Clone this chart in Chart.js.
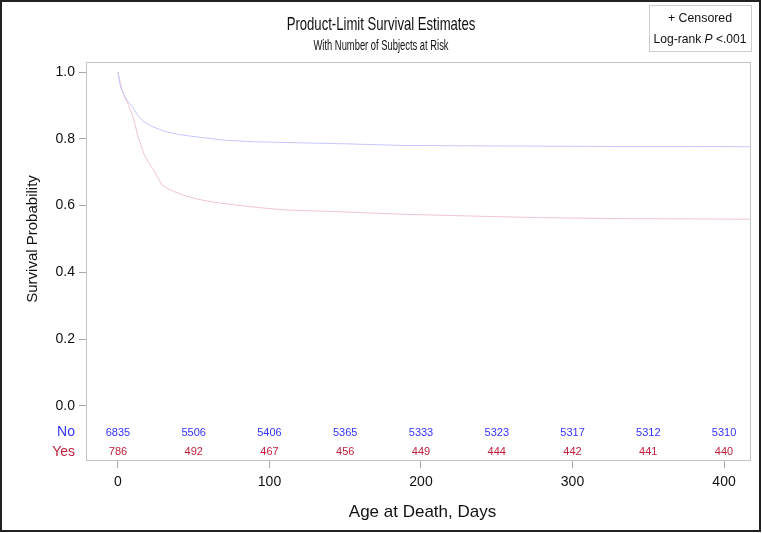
<!DOCTYPE html>
<html>
<head>
<meta charset="utf-8">
<script src="https://cdn.jsdelivr.net/npm/chart.js@4.4.1/dist/chart.umd.min.js"></script>
<style>
  html, body { margin: 0; padding: 0; background: #fff; }
  canvas { display: block; }
</style>
</head>
<body>
<canvas id="km" width="762" height="533"></canvas>
<script>
// survival curves (days, survival probability)
var timesNo = [0, 1, 2, 3.5, 6, 10, 13, 17, 22, 27, 32, 40, 48, 55, 70, 90, 120, 150, 188, 230, 280, 330, 380, 421];
var survNo = [1.0, 0.97, 0.95, 0.936, 0.915, 0.893, 0.870, 0.851, 0.838, 0.829, 0.821, 0.813, 0.808, 0.804, 0.796, 0.791, 0.788, 0.785, 0.780, 0.779, 0.778, 0.777, 0.777, 0.776];
var timesYes = [0, 2, 4, 7, 10, 13, 17, 20, 23.5, 29, 33, 37, 45, 55, 65, 77, 95, 110, 143, 188, 230, 277, 330, 380, 421];
var survYes = [1.0, 0.96, 0.93, 0.90, 0.866, 0.81, 0.756, 0.73, 0.707, 0.662, 0.650, 0.642, 0.628, 0.617, 0.609, 0.602, 0.593, 0.587, 0.582, 0.574, 0.569, 0.564, 0.561, 0.560, 0.559];

// number at risk table
var riskTimes = [0, 50, 100, 150, 200, 250, 300, 350, 400];
var riskNo = [6835, 5506, 5406, 5365, 5333, 5323, 5317, 5312, 5310];
var riskYes = [786, 492, 467, 456, 449, 444, 442, 441, 440];

var xTicks = [0, 100, 200, 300, 400];
var yTicks = [0, 0.2, 0.4, 0.6, 0.8, 1.0];

var FONT = "'Liberation Sans', Arial, Helvetica, sans-serif";
Chart.defaults.font.family = FONT;

function pts(t, s) {
    return t.map(function (v, i) { return { x: v, y: s[i] }; });
}

// narrow text, like the SAS heading font
function narrowText(ctx, txt, x, y, font, sx) {
    ctx.save();
    ctx.translate(x, y);
    ctx.scale(sx, 1);
    ctx.font = font;
    ctx.fillText(txt, 0, 0);
    ctx.restore();
}

var decor = {
    id: 'decor',
    afterDraw: function (chart) {
        var ctx = chart.ctx, a = chart.chartArea;
        var xs = chart.scales.x, ys = chart.scales.y;
        ctx.save();

        // plot frame
        ctx.strokeStyle = '#c4c4c4';
        ctx.lineWidth = 1;
        ctx.strokeRect(a.left + 0.5, a.top + 0.5, a.right - a.left - 1, a.bottom - a.top - 1);

        // titles
        ctx.fillStyle = '#111';
        ctx.textAlign = 'center';
        ctx.textBaseline = 'alphabetic';
        narrowText(ctx, 'Product-Limit Survival Estimates', 381, 30, '19px ' + FONT, 0.69);
        narrowText(ctx, 'With Number of Subjects at Risk', 381, 50, '14px ' + FONT, 0.67);

        // axis titles
        var cx = (a.left + a.right) / 2;
        ctx.font = '17px ' + FONT;
        ctx.textBaseline = 'middle';
        ctx.fillText('Age at Death, Days', cx + 4, 512);
        ctx.save();
        ctx.translate(33, (ys.getPixelForValue(0) + ys.getPixelForValue(1)) / 2);
        ctx.rotate(-Math.PI / 2);
        ctx.font = '15px ' + FONT;
        ctx.fillText('Survival Probability', 0, 0);
        ctx.restore();

        // at-risk rows
        var yNo = ys.getPixelForValue(-0.08), yYes = ys.getPixelForValue(-0.138);
        ctx.font = '11px ' + FONT;
        riskTimes.forEach(function (t, i) {
            var px = xs.getPixelForValue(t);
            ctx.fillStyle = '#3333ff';
            ctx.fillText(String(riskNo[i]), px, yNo);
            ctx.fillStyle = '#c01e3a';
            ctx.fillText(String(riskYes[i]), px, yYes);
        });
        ctx.textAlign = 'right';
        ctx.font = '14px ' + FONT;
        ctx.fillStyle = '#3333ff';
        ctx.fillText('No', 75, yNo);
        ctx.fillStyle = '#c01e3a';
        ctx.fillText('Yes', 75, yYes);

        // inset box
        ctx.strokeStyle = '#cccccc';
        ctx.strokeRect(649.5, 5.5, 102, 46);
        ctx.fillStyle = '#111';
        ctx.textBaseline = 'alphabetic';
        ctx.textAlign = 'center';
        narrowText(ctx, '+ Censored', 700, 22, '13px ' + FONT, 0.95);
        var p1 = 'Log-rank ', p2 = 'P', p3 = ' <.001', k = 0.93;
        ctx.font = '13px ' + FONT;
        var w1 = ctx.measureText(p1).width * k, w3 = ctx.measureText(p3).width * k;
        ctx.font = 'italic 13px ' + FONT;
        var w2 = ctx.measureText(p2).width * k;
        var sx = 700 - (w1 + w2 + w3) / 2;
        ctx.textAlign = 'left';
        narrowText(ctx, p1, sx, 43, '13px ' + FONT, k);
        narrowText(ctx, p2, sx + w1, 43, 'italic 13px ' + FONT, k);
        narrowText(ctx, p3, sx + w1 + w2, 43, '13px ' + FONT, k);

        // outer border
        ctx.strokeStyle = '#222';
        ctx.lineWidth = 2;
        ctx.strokeRect(1, 1, 759, 530);
        ctx.restore();
    }
};

new Chart(document.getElementById('km'), {
    type: 'line',
    data: {
        datasets: [{
            label: 'No',
            data: pts(timesNo, survNo),
            borderColor: '#c6c6ff',
            borderWidth: 1,
            pointRadius: 0,
            tension: 0
        }, {
            label: 'Yes',
            data: pts(timesYes, survYes),
            borderColor: '#f2c6d0',
            borderWidth: 1,
            pointRadius: 0,
            tension: 0
        }]
    },
    options: {
        responsive: false,
        animation: false,
        layout: { padding: { top: 62, right: 11, left: 0, bottom: 0 } },
        plugins: { legend: { display: false }, tooltip: { enabled: false } },
        scales: {
            x: {
                type: 'linear',
                min: -21.1,
                max: 417.8,
                afterBuildTicks: function (s) { s.ticks = xTicks.map(function (v) { return { value: v }; }); },
                afterFit: function (s) { s.height = 72; },
                grid: { drawOnChartArea: false, tickLength: 7, color: '#a8a8a8' },
                border: { display: false },
                ticks: { font: { size: 14 }, color: '#111', padding: 6, maxRotation: 0, autoSkip: false,
                    callback: function (v) { return String(v); } }
            },
            y: {
                min: -0.165,
                max: 1.03,
                afterBuildTicks: function (s) { s.ticks = yTicks.map(function (v) { return { value: v }; }); },
                afterFit: function (s) { s.width = 86; },
                grid: { drawOnChartArea: false, tickLength: 7, color: '#a8a8a8' },
                border: { display: false },
                ticks: { font: { size: 14 }, color: '#111', padding: 4,
                    callback: function (v) { return v.toFixed(1); } }
            }
        }
    },
    plugins: [decor]
});
</script>
</body>
</html>
